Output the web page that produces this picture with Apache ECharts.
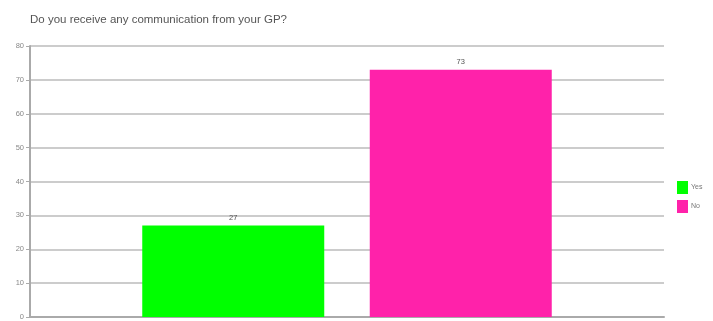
<!DOCTYPE html>
<html>
<head>
<meta charset="utf-8">
<script src="https://cdn.jsdelivr.net/npm/echarts@6/dist/echarts.min.js"></script>
<style>
  html, body { margin: 0; padding: 0; background: #fff; }
  #chart { width: 713px; height: 321px; }
</style>
</head>
<body>
<div id="chart"></div>
<script>
// Survey answers
const categories = ['Do you receive any communication from your GP?'];
const seriesNames = ['Yes', 'No'];
const yesValues = [27];
const noValues = [73];
const seriesColors = ['#00ff00', '#ff22aa'];

const chart = echarts.init(document.getElementById('chart'));

const valueLists = [yesValues, noValues];

chart.setOption({
  animation: false,
  backgroundColor: '#ffffff',
  title: {
    text: categories[0],
    left: 25,
    top: 9,
    textStyle: { fontFamily: 'Liberation Sans', fontSize: 11.5, fontWeight: 'normal', color: '#555' }
  },
  legend: {
    orient: 'vertical',
    left: 677,
    top: 181,
    padding: 0,
    itemWidth: 11,
    itemHeight: 13,
    itemGap: 6,
    icon: 'rect',
    data: seriesNames,
    textStyle: { fontFamily: 'Liberation Sans', fontSize: 7, color: '#777', padding: [0, 0, 0, -2] }
  },
  grid: { left: 30, right: 49, top: 46, bottom: 2, containLabel: false },
  xAxis: {
    type: 'category',
    data: categories,
    axisLine: { show: true, lineStyle: { color: '#aaa', width: 2 } },
    axisTick: { show: false },
    axisLabel: { show: false }
  },
  yAxis: {
    type: 'value',
    min: 0,
    max: 80,
    interval: 10,
    axisLine: { show: true, lineStyle: { color: '#aaa', width: 2 } },
    axisTick: { show: true, length: 4, lineStyle: { color: '#aaa' } },
    axisLabel: { fontFamily: 'Liberation Sans', fontSize: 7.5, color: '#888', margin: 6 },
    splitLine: { show: true, lineStyle: { color: '#bbb', width: 1.5 } }
  },
  series: seriesNames.map((name, i) => ({
    name: name,
    type: 'bar',
    data: valueLists[i],
    barWidth: 182,
    barGap: '25%',
    itemStyle: { color: seriesColors[i] },
    label: {
      show: true,
      position: 'top',
      distance: 4,
      fontFamily: 'Liberation Sans',
      fontSize: 7.5,
      color: '#555'
    }
  }))
});
</script>
</body>
</html>
